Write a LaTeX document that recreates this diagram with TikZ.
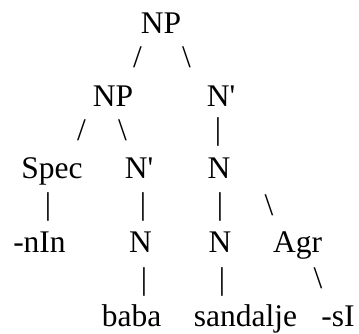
\documentclass[tikz,border=0pt]{standalone}
\usepackage{fontspec}
\setmainfont{Liberation Serif}
\begin{document}
\begin{tikzpicture}[x=1pt,y=1pt,
  lab/.style={inner sep=0pt,anchor=base,font=\fontsize{31.5}{32}\selectfont},
  br/.style={inner sep=0pt,anchor=center,font=\fontsize{31.5}{32}\selectfont}]
\useasboundingbox (0,0) rectangle (359,333);
% row 1
\node[lab] (np1) at (161,300) {NP};
\node[br] (b1l) at (137.5,275.5) {/};
\node[br] (b1r) at (186.5,275.5) {\textbackslash};
% row 2
\node[lab] (np2) at (113,227) {NP};
\node[lab] (nb1) at (221,227) {N\textquotesingle};
\node[br] (b2l) at (81.5,202.5) {/};
\node[br] (b2r) at (122.5,202.5) {\textbackslash};
\node[br] (b2v) at (218,201) {|};
% row 3
\node[lab] (spec) at (52,155) {Spec};
\node[lab] (nb2) at (139,155) {N\textquotesingle};
\node[lab] (n1) at (219,155) {N};
\node[br] (b3a) at (48,126) {|};
\node[br] (b3b) at (143,126) {|};
\node[br] (b3c) at (220,126) {|};
\node[br] (b3d) at (269,128) {\textbackslash};
% row 4
\node[lab] (nin) at (39.5,81) {-nIn};
\node[lab] (n2) at (140.5,81) {N};
\node[lab] (n3) at (220,81) {N};
\node[lab] (agr) at (297.5,81) {Agr};
\node[br] (b4a) at (144,51) {|};
\node[br] (b4b) at (222,51) {|};
\node[br] (b4c) at (318,54.5) {\textbackslash};
% row 5
\node[lab] (baba) at (131.5,7) {baba};
\node[lab] (sand) at (245.5,7) {sandalje};
\node[lab] (si) at (338,7) {-sI};
\end{tikzpicture}
\end{document}
